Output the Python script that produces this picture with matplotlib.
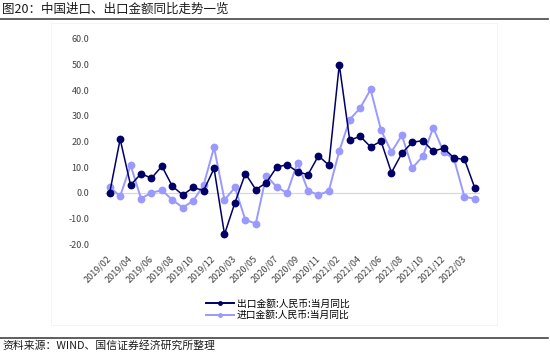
import matplotlib
matplotlib.use('Agg')
import matplotlib.pyplot as plt
from matplotlib.lines import Line2D
from matplotlib.patches import Rectangle

plt.rcParams['font.family'] = ['Noto Sans CJK SC', 'DejaVu Sans']

# months (Jan merged into Feb for 2020/2021/2022)
months = ['2019/02', '2019/03', '2019/04', '2019/05', '2019/06', '2019/07', '2019/08',
          '2019/09', '2019/10', '2019/11', '2019/12',
          '2020/02', '2020/03', '2020/04', '2020/05', '2020/06', '2020/07', '2020/08',
          '2020/09', '2020/10', '2020/11', '2020/12',
          '2021/02', '2021/03', '2021/04', '2021/05', '2021/06', '2021/07', '2021/08',
          '2021/09', '2021/10', '2021/11', '2021/12',
          '2022/02', '2022/03', '2022/04']

# 出口金额:人民币:当月同比 (%)
exports = [0.1, 20.9, 3.0, 7.5, 5.7, 10.4, 2.6, -0.8, 2.1, 0.9, 9.5,
           -16.1, -3.8, 7.5, 1.3, 3.9, 10.0, 11.0, 8.2, 7.1, 14.4, 10.8,
           49.9, 20.5, 22.0, 17.9, 20.1, 7.9, 15.4, 19.7, 20.3, 16.2, 17.4,
           13.6, 13.0, 1.8]

# 进口金额:人民币:当月同比 (%)
imports = [2.3, -1.3, 10.8, -2.2, 0.1, 1.0, -2.7, -5.7, -3.1, 3.1, 17.7,
           -2.7, 2.1, -10.5, -11.9, 6.7, 2.3, 0.0, 11.8, 0.9, -0.8, 0.8,
           16.3, 28.5, 33.0, 40.2, 24.4, 15.9, 22.4, 9.7, 14.2, 25.4, 15.9,
           13.1, -1.6, -2.2]

yticks = [-20, -10, 0, 10, 20, 30, 40, 50, 60]

dark = '#000066'
light = '#9999ff'

fig = plt.figure(figsize=(5.5, 3.62), dpi=100)
ax = fig.add_axes([0.19, 0.325, 0.683, 0.5685])

x = list(range(len(months)))
ax.plot(x, imports, color=light, lw=1.4, marker='o', ms=4.6, zorder=3,
        label='进口金额:人民币:当月同比')
ax.plot(x, exports, color=dark, lw=1.1, marker='o', ms=4.6, zorder=4,
        label='出口金额:人民币:当月同比')
ax.axhline(0, color='#d9d9d9', lw=0.9, zorder=1)

ax.set_xlim(-0.5, len(months) - 0.5)
ax.set_ylim(-20, 60)
for s in ax.spines.values():
    s.set_visible(False)

ax.set_yticks(yticks)
ax.set_yticklabels(['%.1f' % v for v in yticks], fontsize=6.5, color='#404040')
ax.tick_params(axis='y', length=0, pad=11)

ax.set_xticks(x[::2])
ax.set_xticklabels(months[::2], rotation=45, ha='right', va='center',
                   rotation_mode='anchor', fontsize=6.5, color='#404040')
ax.tick_params(axis='x', length=0, pad=9)

# legend
handles = [Line2D([], [], color=dark, lw=1.4, marker='o', ms=2.5),
           Line2D([], [], color=light, lw=1.4, marker='o', ms=2.5)]
fig.legend(handles, ['出口金额:人民币:当月同比', '进口金额:人民币:当月同比'],
           loc='center', bbox_to_anchor=(278 / 550, 1 - 309.5 / 362),
           frameon=False, fontsize=7, handlelength=2.8, handletextpad=0.35,
           labelspacing=0.15, borderpad=0)

# faint chart frame
fig.patches.append(Rectangle((51 / 550, 1 - 325 / 362), 446 / 550, 302 / 362,
                             transform=fig.transFigure, fill=False,
                             edgecolor='#f2f2f2', lw=0.6))

# title, rules and source
fig.text(2 / 550, 1 - 9 / 362, '图20：中国进口、出口金额同比走势一览',
         fontsize=9, color='#1a1a1a', va='center', ha='left')
fig.add_artist(Line2D([0, 548 / 550], [1 - 19 / 362, 1 - 19 / 362],
                      transform=fig.transFigure, color='#555555', lw=1.3))
fig.add_artist(Line2D([0, 548 / 550], [1 - 338 / 362, 1 - 338 / 362],
                      transform=fig.transFigure, color='#333333', lw=1.1))
fig.text(2 / 550, 1 - 345 / 362, '资料来源：WIND、国信证券经济研究所整理',
         fontsize=7.8, color='#1a1a1a', va='center', ha='left')

fig.savefig('out.png', dpi=100)
